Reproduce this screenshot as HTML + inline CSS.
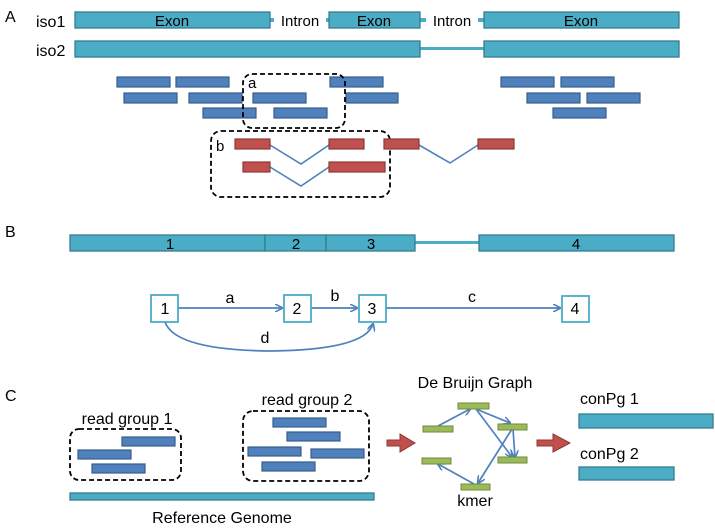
<!DOCTYPE html>
<html><head><meta charset="utf-8"><style>body{margin:0;background:#fff}svg{display:block}text{font-family:"Liberation Sans",sans-serif;fill:#000}</style></head><body>
<svg width="715" height="530" viewBox="0 0 715 530" xmlns="http://www.w3.org/2000/svg">
<defs>
<marker id="ar" markerWidth="8" markerHeight="8" refX="7" refY="4" orient="auto" markerUnits="userSpaceOnUse"><path d="M0,0 L8,4 L0,8" fill="none" stroke="#4f81bd" stroke-width="1.6"/></marker>
</defs>
<g font-size="16">
<text x="5" y="22">A</text>
<text x="36" y="27">iso1</text>
<text x="36" y="56">iso2</text>
</g>
<g fill="#4bacc6" stroke="#357d91" stroke-width="1.3">
<rect x="270" y="18" width="59" height="4" stroke="none"/>
<rect x="420" y="18" width="64" height="4" stroke="none"/>
<rect x="420" y="47" width="64" height="3" stroke="none"/>
<rect x="75" y="12" width="195" height="16"/>
<rect x="329" y="12" width="91" height="16"/>
<rect x="484" y="12" width="195" height="16"/>
<rect x="75" y="41" width="345" height="16"/>
<rect x="484" y="41" width="195" height="16"/>
</g>
<g font-size="15" text-anchor="middle">
<text x="172" y="26">Exon</text>
<rect x="274" y="12" width="52" height="15" fill="#fff"/>
<text x="300" y="26">Intron</text>
<text x="374" y="26">Exon</text>
<rect x="426" y="12" width="52" height="15" fill="#fff"/>
<text x="452" y="26">Intron</text>
<text x="581" y="26">Exon</text>
</g>
<g fill="#4f81bd" stroke="#385d8a" stroke-width="1.2">
<rect x="117" y="77" width="53" height="10"/><rect x="176" y="77" width="53" height="10"/><rect x="330" y="77" width="53" height="10"/><rect x="501" y="77" width="53" height="10"/><rect x="561" y="77" width="53" height="10"/>
<rect x="124" y="93" width="53" height="10"/><rect x="189" y="93" width="53" height="10"/><rect x="253" y="93" width="53" height="10"/><rect x="346" y="93" width="52" height="10"/><rect x="527" y="93" width="53" height="10"/><rect x="587" y="93" width="53" height="10"/>
<rect x="203" y="108" width="53" height="10"/><rect x="274" y="108" width="53" height="10"/><rect x="553" y="108" width="53" height="10"/>
</g>
<g fill="none" stroke="#000" stroke-width="1.8" stroke-dasharray="5,3">
<rect x="243" y="74" width="102" height="54" rx="9"/>
<rect x="211" y="131" width="179" height="66" rx="10"/>
</g>
<text x="248" y="88" font-size="15">a</text>
<text x="216" y="151" font-size="15">b</text>
<g fill="none" stroke="#4f81bd" stroke-width="1.6">
<polyline points="270,145 301,164 329,145"/><polyline points="270,167 301,186 329,167"/><polyline points="419,145 450,163 478,145"/>
</g>
<g fill="#c0504d" stroke="#8c3836" stroke-width="1.2">
<rect x="235" y="139" width="35" height="10"/><rect x="329" y="139" width="35" height="10"/><rect x="384" y="139" width="35" height="10"/><rect x="478" y="139" width="36" height="10"/>
<rect x="243" y="162" width="27" height="10"/><rect x="329" y="162" width="56" height="10"/>
</g>
<text x="5" y="237" font-size="16">B</text>
<g fill="#4bacc6" stroke="#357d91" stroke-width="1.3">
<rect x="415" y="241" width="64" height="3" stroke="none"/>
<rect x="70" y="235" width="195" height="16"/><rect x="265" y="235" width="61" height="16"/><rect x="326" y="235" width="89" height="16"/>
<rect x="479" y="235" width="195" height="16"/>
</g>
<g font-size="15" text-anchor="middle">
<text x="170" y="249">1</text><text x="296" y="249">2</text><text x="371" y="249">3</text><text x="576" y="249">4</text>
</g>
<g fill="none" stroke="#4f81bd" stroke-width="1.8">
<line x1="178" y1="308" x2="282" y2="308" marker-end="url(#ar)"/>
<line x1="311" y1="308" x2="357" y2="308" marker-end="url(#ar)"/>
<line x1="386" y1="308" x2="560" y2="308" marker-end="url(#ar)"/>
<path d="M165,322 Q175,350 270,351 Q365,350 373,324" marker-end="url(#ar)"/>
</g>
<g fill="#fff" stroke="#4bacc6" stroke-width="1.8">
<rect x="151" y="295" width="27" height="27"/><rect x="284" y="295" width="27" height="27"/><rect x="359" y="295" width="27" height="27"/><rect x="562" y="296" width="27" height="26"/>
</g>
<g font-size="16" text-anchor="middle">
<text x="165" y="314">1</text><text x="297" y="314">2</text><text x="372" y="314">3</text><text x="575" y="314">4</text>
<text x="230" y="303">a</text><text x="335" y="301">b</text><text x="472" y="302">c</text><text x="265" y="343">d</text>
</g>
<text x="5" y="401" font-size="16">C</text>
<g font-size="16" text-anchor="middle">
<text x="127" y="424">read group 1</text>
<text x="307" y="405">read group 2</text>
<text x="222" y="523">Reference Genome</text>
<text x="475" y="388">De Bruijn Graph</text>
<text x="475" y="506">kmer</text>
</g>
<g font-size="16"><text x="580" y="404">conPg 1</text><text x="580" y="459">conPg 2</text></g>
<g fill="none" stroke="#000" stroke-width="1.8" stroke-dasharray="5,3">
<rect x="70" y="429" width="111" height="51" rx="9"/>
<rect x="243" y="411" width="126" height="70" rx="10"/>
</g>
<g fill="#4f81bd" stroke="#385d8a" stroke-width="1.2">
<rect x="122" y="437" width="53" height="9"/><rect x="78" y="450" width="53" height="9"/><rect x="92" y="464" width="53" height="9"/>
<rect x="273" y="418" width="53" height="9"/><rect x="287" y="432" width="53" height="9"/><rect x="248" y="447" width="53" height="9"/><rect x="311" y="449" width="53" height="9"/><rect x="262" y="462" width="53" height="9"/>
</g>
<g fill="#4bacc6" stroke="#357d91" stroke-width="1.3">
<rect x="70" y="493" width="304" height="7"/>
<rect x="579" y="414" width="134" height="14"/>
<rect x="579" y="467" width="95" height="13"/>
</g>
<g fill="#c0504d" stroke="#8c3836" stroke-width="1">
<path d="M387,440 H400 V434 L415,443 L400,452 V446 H387 Z"/>
<path d="M537,440 H553 V434 L570,443 L553,452 V446 H537 Z"/>
</g>
<g fill="none" stroke="#4f81bd" stroke-width="1.7">
<line x1="438" y1="426" x2="470" y2="409" marker-end="url(#ar)"/>
<line x1="476" y1="409" x2="510" y2="423" marker-end="url(#ar)"/>
<line x1="476" y1="409" x2="512" y2="457" marker-end="url(#ar)"/>
<line x1="513" y1="429" x2="515" y2="457" marker-end="url(#ar)"/>
<line x1="512" y1="429" x2="478" y2="483" marker-end="url(#ar)"/>
<line x1="474" y1="484" x2="438" y2="464" marker-end="url(#ar)"/>
</g>
<g fill="#9bbb59" stroke="#71893f" stroke-width="1">
<rect x="458" y="403" width="31" height="6"/><rect x="423" y="426" width="30" height="6"/><rect x="498" y="424" width="29" height="6"/>
<rect x="422" y="458" width="29" height="6"/><rect x="498" y="457" width="29" height="6"/><rect x="461" y="484" width="29" height="6"/>
</g>
</svg>
</body></html>
